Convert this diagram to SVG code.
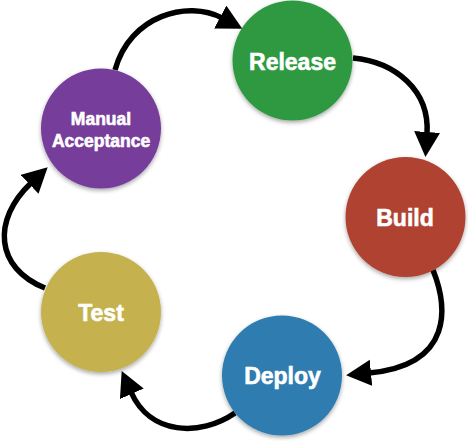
<svg xmlns="http://www.w3.org/2000/svg" width="468" height="441" viewBox="0 0 468 441">
  <defs>
    <filter id="sh" x="-20%" y="-20%" width="140%" height="150%">
      <feDropShadow dx="0" dy="2" stdDeviation="2" flood-color="#000" flood-opacity="0.35"/>
    </filter>
    <marker id="ah" markerUnits="userSpaceOnUse" markerWidth="28" markerHeight="28" refX="2" refY="13" orient="auto">
      <path d="M0,0 L25,13 L0,26 Z" fill="#000"/>
    </marker>
    <style>
      .node { filter: url(#sh); }
      .lbl { font-family: "Liberation Sans", Arial, Helvetica, sans-serif; font-weight: bold; fill: #fff; stroke: #fff; stroke-width: 0.6; text-anchor: middle; }
      .big { font-size: 23px; }
      .small { font-size: 17.5px; }
      .conn { fill: none; stroke: #000; stroke-width: 5.5; marker-end: url(#ah); }
    </style>
  </defs>
  <rect width="468" height="441" fill="#fff"/>
  <g id="connectors">
    <path class="conn" d="M115,70 C130,15 188,0 222,18"/>
    <path class="conn" d="M353,58 C395,62 430,90 427,134"/>
    <path class="conn" d="M433,270 C447,305 455,365 369,373"/>
    <path class="conn" d="M235,413 C200,437 150,435 131,392"/>
    <path class="conn" d="M45,288 C-5,268 -8,220 31,183"/>
  </g>
  <g id="release">
    <circle class="node" cx="292.5" cy="60.5" r="60" fill="#2f9940"/>
    <text class="lbl big" x="292.5" y="70">Release</text>
  </g>
  <g id="build">
    <circle class="node" cx="405.5" cy="217" r="60" fill="#b04231"/>
    <text class="lbl big" x="405" y="226">Build</text>
  </g>
  <g id="deploy">
    <circle class="node" cx="282" cy="375.5" r="60" fill="#2e7cb0"/>
    <text class="lbl big" x="282.5" y="384">Deploy</text>
  </g>
  <g id="test">
    <circle class="node" cx="101" cy="312" r="60" fill="#c5b250"/>
    <text class="lbl big" x="101" y="321">Test</text>
  </g>
  <g id="manual-acceptance">
    <circle class="node" cx="101" cy="128.5" r="60" fill="#763e9a"/>
    <text class="lbl small" x="101" y="125">Manual</text>
    <text class="lbl small" x="101" y="146.5">Acceptance</text>
  </g>
</svg>
